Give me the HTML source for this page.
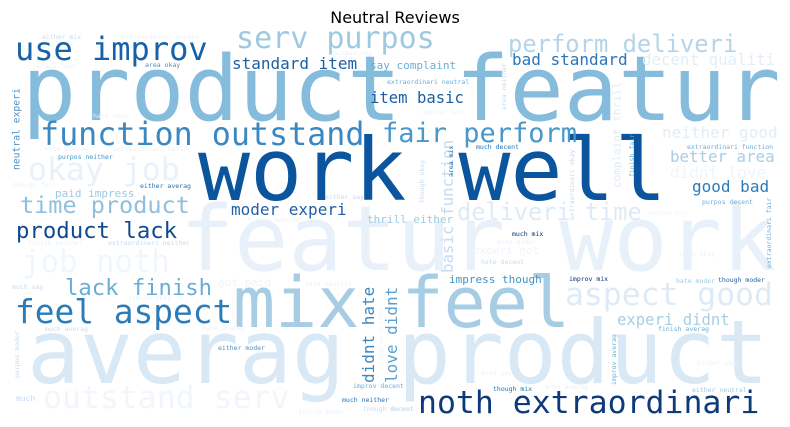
<!DOCTYPE html>
<html><head><meta charset="utf-8">
<style>
html,body{margin:0;padding:0;background:#fff;}
svg{display:block;}
text{font-family:"DejaVu Sans Mono","Liberation Mono",monospace;}
</style></head>
<body>
<svg id="wc" width="790" height="427" viewBox="0 0 790 427" xmlns="http://www.w3.org/2000/svg">
<rect width="790" height="427" fill="#fff"/>
<text x="395" y="23" text-anchor="middle" font-size="16" fill="#000" style="font-family:'DejaVu Sans','Liberation Sans',sans-serif">Neutral Reviews</text>
<g id="words"></g>
</svg>
<script>
// word, left x, baseline y (or bottom y for vertical), font size, color, vertical flag
const words = ["product featur","featur work","averag product","work well","mix feel","noth extraordinari","use improv","serv purpos","perform deliveri","standard item","say complaint","bad standard","decent qualiti","item basic","function outstand","fair perform","okay job","neither good","better area","didnt love","good bad","time product","paid impress","moder experi","deliveri time","thrill either","product lack","job noth","lack finish","feel aspect","aspect good","experi didnt","impress though","outstand serv","neutral experi","didnt hate","love didnt","basic function","complaint thrill","got paid","experi got",
"either mix","extraordinari decent","purpos say","purpos fair","area okay","extraordinari neutral","hate okay","hate averag","extraordinari basic","purpos neither","though fair","either averag","either say","finish neutral","finish neither","extraordinari neither","hate neutral","much say","finish okay","much averag","hate averag","either moder","purpos moder","improv decent","much","much neither","finish moder","though decent","improv neither",
"improv fair","area neither","much decent","area mix","though okay","extraordinari okay","finish fair","extraordinari function","purpos decent","purpos mix","extraordinari fair","much mix","area moder","hate decent","much okay","improv mix","hate moder","though moder","finish averag","improv averag","either okay","area say","though mix","area averag","either neutral","decent"];
const xs = [22,180,27,198,233,418,15,236,508,232,370,512,642,370,40,382,28,662,670,670,692,20,55,231,457,367,16,22,65,15,565,617,449,43,12,362,385,441,612,218,473,
42,121,333,33,145,387,93,45,113,58,13,140,325,247,28,108,305,12,128,45,202,218,14,353,16,342,298,363,378,
422,501,476,448,419,569,629,687,702,648,766,512,497,481,680,569,676,718,658,611,697,481,493,545,692,390];
const ys = [120,270,383,200,327,413,60,48,52,69,69,65,65,103,145,142,180,138,162,178,192,213,197,215,220,223,238,272,295,323,305,325,283,408,170,383,383,273,188,286,254,
39,39,55,68,67,84,118,151,151,159,187,188,199,222,245,245,286,289,300,331,330,350,378,388,401,402,414,411,360,
114,110,149,177,203,220,177,149,204,215,268,236,244,264,256,281,283,282,331,385,365,375,391,389,392,411];
const sizes = [90,90,88,86.5,70,31.5,32,30,23.8,16,11,16,15.8,15.6,31.7,27,31.5,16,15.8,16,16,23.5,11,16,23.6,11,22.3,30.7,22.2,32.8,31.4,15.6,11,31.5,9.7,16,16,15.8,11,11,11,
6.5,6.5,6.5,6.5,6.5,6.5,6.5,6.5,6.5,6.5,6.5,6.5,6.5,6.5,6.5,6.5,6.5,6.5,6.5,6.5,6.5,6.5,6.5,6.5,8,6.5,6.5,6.5,6.5,
6.5,6.5,6.5,6.5,6.5,6.5,6.5,6.5,6.5,6.5,6.5,6.5,6.5,6.5,6.5,6.5,6.5,6.5,6.5,6.5,6.5,6.5,6.5,6.5,6.5,6.5];
const colors = ["#85bcdc","#e8f1fa","#d9e8f5","#0b559f","#a6cde3","#0d3a7a","#1562a8","#9ecae1","#b5d4e9","#1d5fa5","#6aaed6","#2a76b8","#e3eef8","#1a5ea6","#3a87c2","#4a98c9","#e8f1fa","#e1edf7","#a8cee4","#eef5fc","#2b7bba","#8fc0de","#9ecae1","#2060a6","#deebf7","#9ecae1","#0d4a8f","#f0f6fc","#6aaed6","#2c7cba","#deebf7","#a8cee4","#4292c6","#f0f6fc","#4a8fc5","#3a87c2","#5aa1cf","#c6dbef","#deebf7","#eef5fc","#eef5fc",
"#c6dbef","#e8f1fa","#e8f1fa","#e8f1fa","#4a8fc5","#6aaed6","#e8f1fa","#e8f1fa","#e8f1fa","#4292c6","#e8f1fa","#2171b5","#c6dbef","#e8f1fa","#e8f1fa","#c6dbef","#e8f1fa","#c6dbef","#e8f1fa","#c6dbef","#e8f1fa","#4a8fc5","#c6dbef","#6aaed6","#c6dbef","#2171b5","#e8f1fa","#c6dbef","#eef5fc",
"#e8f1fa","#c6dbef","#2171b5","#2171b5","#c6dbef","#c6dbef","#6aaed6","#6aaed6","#6aaed6","#eef5fc","#6aaed6","#08306b","#e8f1fa","#c6dbef","#e8f1fa","#08306b","#9ecae1","#1f5fa5","#6aaed6","#6aaed6","#e8f1fa","#e8f1fa","#2171b5","#e8f1fa","#9ecae1","#c6dbef"];
const vertical = ["neutral experi","didnt hate","love didnt","basic function","complaint thrill","purpos moder","improv neither","area neither","area mix","though okay","extraordinari okay","finish fair","extraordinari fair","improv averag"];

const g = document.getElementById('words');
const NS = "http://www.w3.org/2000/svg";
for (let i = 0; i < words.length; i++) {
  const t = document.createElementNS(NS, 'text');
  const fs = sizes[i];
  const isV = vertical.indexOf(words[i]) >= 0;
  t.setAttribute('font-size', fs);
  t.setAttribute('fill', colors[i]);
  t.setAttribute('textLength', (words[i].length * 0.602 * fs).toFixed(1));
  if (isV) {
    const bx = xs[i] + 0.76 * fs;
    t.setAttribute('x', bx);
    t.setAttribute('y', ys[i]);
    t.setAttribute('transform', 'rotate(-90 ' + bx + ' ' + ys[i] + ')');
  } else {
    t.setAttribute('x', xs[i]);
    t.setAttribute('y', ys[i]);
  }
  t.textContent = words[i];
  
  
  g.appendChild(t);
}
</script>
</body></html>
